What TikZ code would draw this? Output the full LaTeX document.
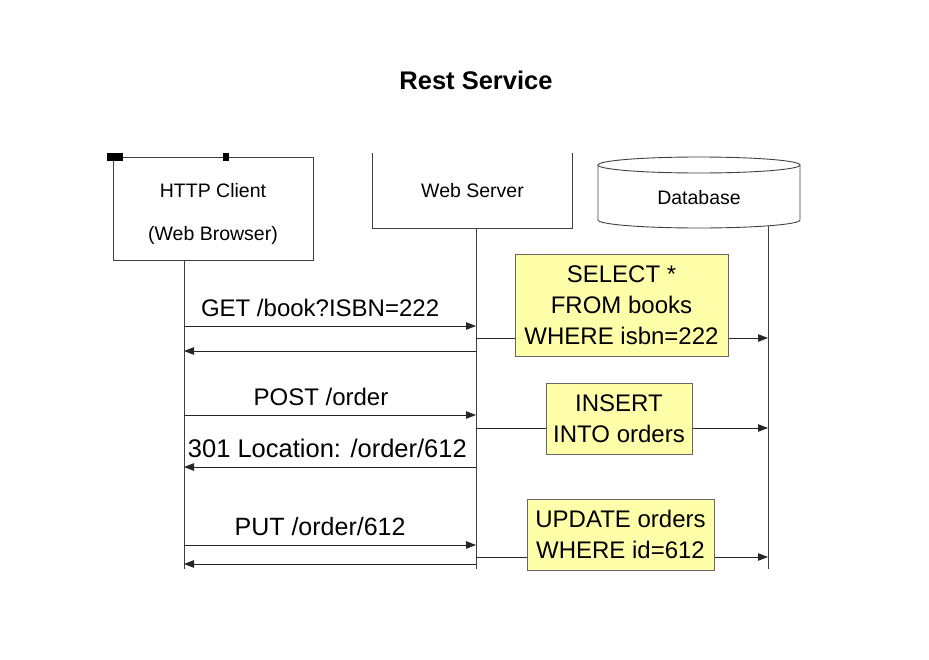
\documentclass[tikz,border=0pt]{standalone}
\usepackage{fontspec}
\setmainfont{Liberation Sans}
\usetikzlibrary{arrows.meta}
\definecolor{sqlyellow}{RGB}{255,255,170}
\tikzset{
  life/.style={draw=black!75, line width=0.9pt},
  msg/.style={draw=black!85, line width=0.9pt, -{Triangle[length=10pt,width=7.5pt]}},
  lbl/.style={font=\fontsize{24}{31}\selectfont, anchor=base, yshift=10pt, inner sep=0pt},
  sqlbox/.style={draw=black!60, line width=0.9pt, fill=sqlyellow, align=center, inner sep=0pt, font=\fontsize{24}{31}\selectfont},
  actor/.style={font=\fontsize{19.5}{43}\selectfont, align=center, inner sep=0pt}
}
\begin{document}
\begin{tikzpicture}[x=1pt, y=-1pt]
        \useasboundingbox (0,0) rectangle (929,659);
        %Title
        \node[font=\bfseries\fontsize{25.5}{30}\selectfont] (title) at (476,80) {Rest Service};

        %Client
        \node[life, minimum width=200, minimum height=103, inner sep=0pt] (client) at (213,208.5) {};
        \node[actor] (clienttxt) at (213,213.5) {HTTP Client\\(Web Browser)};
        \fill (107,153) rectangle (123,161);
        \fill (223,153) rectangle (229,161);
        %Server
        \node[actor, minimum width=199, minimum height=75] (server) at (472.5,190.5) {Web Server};
        \draw[life] (server.north west) -- (server.south west) -- (server.south east) -- (server.north east);
        %Database
        \node[actor] (db) at (699,197.5) {Database};
        \draw[life] (699,165) ellipse [x radius=101pt, y radius=8pt];
        \draw[life] (598,165) -- (598,220) arc[start angle=180, end angle=360, x radius=101pt, y radius=8pt] -- (800,165);

        %Lifelines
        \foreach \n/\y in {
        get/326, getr/351, q1/338, post/415, postr/467, q2/428, put/545, putr/564, q3/557, end/569
        }{\coordinate (cl-\n) at (184,\y);
          \coordinate (ws-\n) at (476,\y);
          \coordinate (dbl-\n) at (768,\y);}
        \draw[life] (cl-end |- client.south) -- (cl-end);
        \draw[life] (ws-end |- server.south) -- (ws-end);
        \draw[life] (768,226) -- (dbl-end);

        %GET
        \draw[msg] (cl-get) -- (ws-get) node[lbl, pos=0.466] (lget) {GET /book?ISBN=222};
        \draw[msg] (ws-getr) -- (cl-getr);
        \draw[msg] (ws-q1) -- (dbl-q1);
        \node[sqlbox, minimum width=213, minimum height=102] (q1) at (621.5,305) {SELECT *\\FROM books\\WHERE isbn=222};

        %POST
        \draw[msg] (cl-post) -- (ws-post) node[lbl, pos=0.469] (lpost) {POST /order};
        \draw[msg] (ws-postr) -- (cl-postr) node[lbl, pos=0.509, font=\fontsize{25.5}{31}\selectfont] (lpostr) {301 Location: /order/612};
        \draw[msg] (ws-q2) -- (dbl-q2);
        \node[sqlbox, minimum width=146, minimum height=71] (q2) at (619,418.5) {INSERT\\INTO orders};

        %PUT
        \draw[msg] (cl-put) -- (ws-put) node[lbl, pos=0.466, font=\fontsize{25}{31}\selectfont] (lput) {PUT /order/612};
        \draw[msg] (ws-putr) -- (cl-putr);
        \draw[msg] (ws-q3) -- (dbl-q3);
        \node[sqlbox, minimum width=187, minimum height=71] (q3) at (620.5,534.5) {UPDATE orders\\WHERE id=612};
\end{tikzpicture}
\end{document}
